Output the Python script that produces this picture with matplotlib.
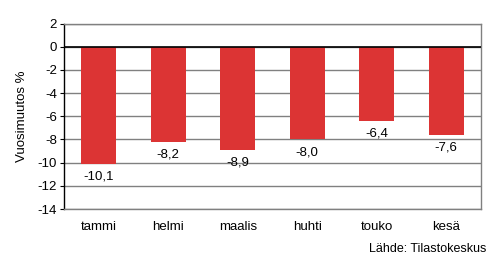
import matplotlib

matplotlib.use("Agg")
import matplotlib.pyplot as plt

months = ["tammi", "helmi", "maalis", "huhti", "touko", "kesä"]
values = [-10.1, -8.2, -8.9, -8.0, -6.4, -7.6]
yticks = [2, 0, -2, -4, -6, -8, -10, -12, -14]

RED = "#DC3434"
GRID = "#808080"

plt.rcParams["font.family"] = ["Liberation Sans", "DejaVu Sans"]
plt.rcParams["font.size"] = 9.5

fig = plt.figure(figsize=(4.95, 2.66), dpi=100)
ax = fig.add_axes([64 / 495, 1 - 209 / 266, (481 - 64) / 495, (209 - 23.5) / 266])

x = range(len(months))
ax.bar(x, values, width=0.5, color=RED, zorder=2)
ax.set_xlim(-0.5, len(months) - 0.5)
ax.set_ylim(-14, 2)
ax.set_yticks(yticks)
ax.set_yticklabels([str(t) for t in yticks])
ax.set_xticks(list(x))
ax.set_xticklabels(months)
ax.tick_params(axis="x", length=0, pad=9)
ax.tick_params(axis="y", length=3, width=0.8, direction="out", pad=2)

ax.grid(axis="y", color=GRID, linewidth=1, zorder=0)
ax.axhline(0, color="black", linewidth=1.2, zorder=3)
for side in ["top", "right", "bottom"]:
    ax.spines[side].set_color(GRID)
    ax.spines[side].set_linewidth(1)
ax.spines["left"].set_color("black")
ax.spines["left"].set_linewidth(1)

for i, v in enumerate(values):
    ax.annotate(
        f"{v:.1f}".replace(".", ","),
        (i, v),
        xytext=(0, -5),
        textcoords="offset points",
        ha="center",
        va="top",
        fontsize=9.5,
    )

ax.set_ylabel("Vuosimuutos %", labelpad=7)
fig.text(486 / 495, 1 - 249 / 266, "Lähde: Tilastokeskus", ha="right", va="center", fontsize=9)

fig.savefig("out.png", dpi=100, facecolor="white")
